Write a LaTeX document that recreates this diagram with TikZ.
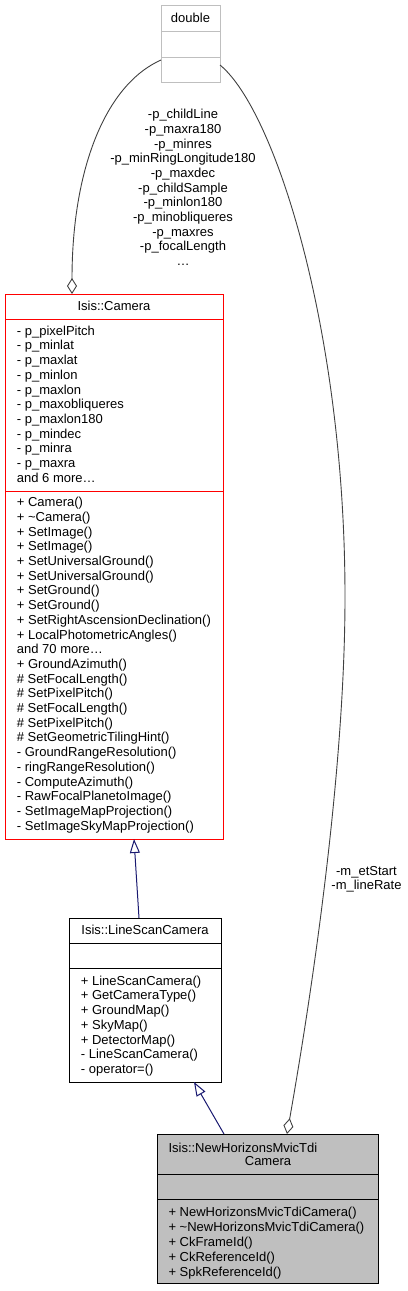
\documentclass[tikz,border=0pt]{standalone}
\usepackage{fontspec}
\setmainfont{Liberation Sans}
\usetikzlibrary{arrows.meta}
\definecolor{boxgray}{HTML}{BFBFBF}
\definecolor{edgegray}{HTML}{404040}
\definecolor{inhblue}{HTML}{191970}
\definecolor{camred}{HTML}{FF0000}
\newcommand{\fs}{\fontsize{13bp}{14.7bp}\selectfont}

\begin{document}
\begin{tikzpicture}[x=1bp,y=-1bp,
  cls/.style={line width=1bp, inner sep=0pt, outer sep=0pt, anchor=north west},
  txt/.style={inner sep=0pt, anchor=north west, align=left, font=\fs},
  ttl/.style={inner sep=0pt, anchor=base, font=\fs},
  lbl/.style={inner sep=0pt, anchor=north, align=center, font=\fs},
  aggr/.style={edgegray, line width=0.9bp,
    -{Diamond[open, length=16bp, width=10bp]}},
  inher/.style={inhblue, line width=1bp,
    -{Triangle[open, length=14bp, width=10bp]}}]
  \useasboundingbox (0,0) rectangle (407,1291);
  % class boxes
  \node[cls, draw=boxgray, minimum width=59bp, minimum height=77bp] (double) at (161,5) {};
  \node[cls, draw=camred, minimum width=218bp, minimum height=545bp] (camera) at (5,294) {};
  \node[cls, draw=black, minimum width=152bp, minimum height=164bp] (lsc) at (69,918) {};
  \node[cls, draw=black, fill=boxgray, minimum width=221bp, minimum height=149bp] (nh) at (157,1134) {};
  \draw[boxgray, line width=1bp] (161,31) -- (220,31);
  \draw[boxgray, line width=1bp] (161,57) -- (220,57);
  \draw[camred, line width=1bp] (5,319) -- (223,319);
  \draw[camred, line width=1bp] (5,491) -- (223,491);
  \draw[line width=1bp] (69,943) -- (221,943);
  \draw[line width=1bp] (69,968) -- (221,968);
  \draw[line width=1bp] (157,1174) -- (378,1174);
  \draw[line width=1bp] (157,1199) -- (378,1199);
  % texts
  \node[ttl] (doubleName) at (190.5,22) {double};
  \node[ttl] (cameraName) at (114,310) {Isis::Camera};
  \node[txt] (cameraAttr) at (16.7,324.7) {\strut - p\_pixelPitch\\- p\_minlat\\- p\_maxlat\\- p\_minlon\\- p\_maxlon\\- p\_maxobliqueres\\- p\_maxlon180\\- p\_mindec\\- p\_minra\\- p\_maxra\\and 6 more…};
  \node[txt] (cameraOps) at (16.7,496.2) {\strut + Camera()\\+ \textasciitilde Camera()\\+ SetImage()\\+ SetImage()\\+ SetUniversalGround()\\+ SetUniversalGround()\\+ SetGround()\\+ SetGround()\\+ SetRightAscensionDeclination()\\+ LocalPhotometricAngles()\\and 70 more…\\+ GroundAzimuth()\\\# SetFocalLength()\\\# SetPixelPitch()\\\# SetFocalLength()\\\# SetPixelPitch()\\\# SetGeometricTilingHint()\\- GroundRangeResolution()\\- ringRangeResolution()\\- ComputeAzimuth()\\- RawFocalPlanetoImage()\\- SetImageMapProjection()\\- SetImageSkyMapProjection()};
  \node[ttl] (lscName) at (145,934) {Isis::LineScanCamera};
  \node[txt] (lscOps) at (80.7,974.7) {\strut + LineScanCamera()\\+ GetCameraType()\\+ GroundMap()\\+ SkyMap()\\+ DetectorMap()\\- LineScanCamera()\\- operator=()};
  \node[ttl, anchor=base west] (nhName) at (168.3,1152.5) {Isis::NewHorizonsMvicTdi};
  \node[ttl] (nhName2) at (268,1165.5) {Camera};
  \node[txt, font=\fontsize{13bp}{15bp}\selectfont] (nhOps) at (168.3,1205.5) {\strut + NewHorizonsMvicTdiCamera()\\+ \textasciitilde NewHorizonsMvicTdiCamera()\\+ CkFrameId()\\+ CkReferenceId()\\+ SpkReferenceId()};
  % edge labels
  \node[lbl] (camLabel) at (183,108.2) {\strut -p\_childLine\\-p\_maxra180\\-p\_minres\\-p\_minRingLongitude180\\-p\_maxdec\\-p\_childSample\\-p\_minlon180\\-p\_minobliqueres\\-p\_maxres\\-p\_focalLength\\…};
  \node[lbl] (nhLabel) at (366.5,864.7) {\strut -m\_etStart\\-m\_lineRate};
  % connector ends
  \coordinate (dblL) at ([yshift=-55bp]double.north west);
  \coordinate (dblR) at ([yshift=-60bp]double.north east);
  \coordinate (camAgg) at ([xshift=67bp]camera.north west);
  \coordinate (nhAgg) at ([xshift=130bp]nh.north west);
  \coordinate (camBot) at ([xshift=129bp]camera.south west);
  \coordinate (lscTop) at ([xshift=70bp]lsc.north west);
  \coordinate (lscBot) at ([xshift=125bp]lsc.south west);
  \coordinate (nhTop) at ([xshift=67bp]nh.north west);
  % connectors
  \draw[aggr] (dblL) .. controls (105,85) and (72,170) .. (camAgg);
  \draw[aggr] (dblR) .. controls (275,110) and (345,330) .. (345,597)
    .. controls (345,800) and (300,1060) .. (nhAgg);
  \draw[inher] (lscTop) -- (camBot);
  \draw[inher] (nhTop) -- (lscBot);
\end{tikzpicture}
\end{document}
